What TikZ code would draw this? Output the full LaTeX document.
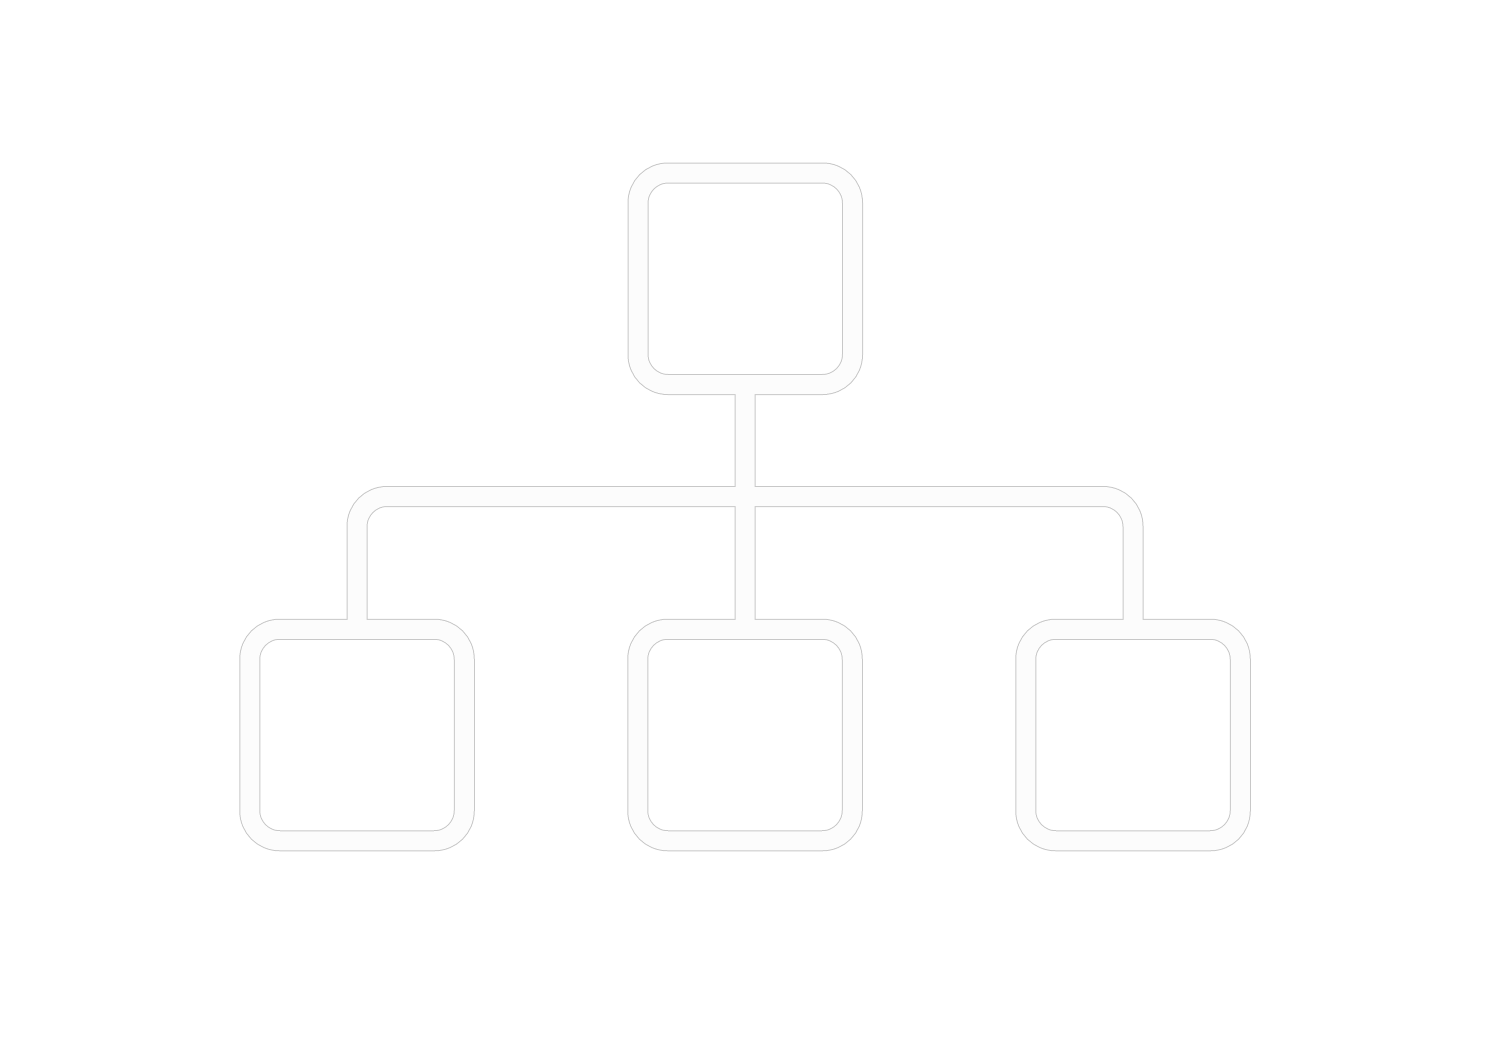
\documentclass[tikz,border=0pt]{standalone}
\definecolor{edgegrey}{HTML}{C8C8C8}
\definecolor{strokewhite}{HTML}{FCFCFC}
\tikzset{
  outerpass/.style={draw=edgegrey, line width=21pt},
  innerpass/.style={draw=strokewhite, line width=19pt},
  boxshape/.style={rectangle, rounded corners=30pt, minimum width=214.5pt, minimum height=211.5pt, inner sep=0pt, outer sep=0pt},
  boxo/.style={boxshape, outerpass},
  boxi/.style={boxshape, innerpass},
  conno/.style={outerpass, rounded corners=30pt},
  conni/.style={innerpass, rounded corners=30pt}
}
\begin{document}
\begin{tikzpicture}[x=1pt,y=-1pt]
\fill[white] (0,0) rectangle (1491,1055);
\useasboundingbox (0,0) rectangle (1491,1055);
% outline pass
\node[boxo] (top) at (745.25,278.75) {};
\node[boxo] (bl) at (357,735) {};
\node[boxo] (bm) at (745,735) {};
\node[boxo] (br) at (1133,735) {};
\coordinate (jn) at (745,496.5);
\draw[conno] (top.south) -- (bm.north);
\draw[conno] (bl.north) |- (br.north |- jn) -- (br.north);
% white pass
\node[boxi] (topw) at (top) {};
\node[boxi] (blw) at (bl) {};
\node[boxi] (bmw) at (bm) {};
\node[boxi] (brw) at (br) {};
\draw[conni] (topw.south) -- (bmw.north);
\draw[conni] (blw.north) |- (brw.north |- jn) -- (brw.north);
\end{tikzpicture}
\end{document}
